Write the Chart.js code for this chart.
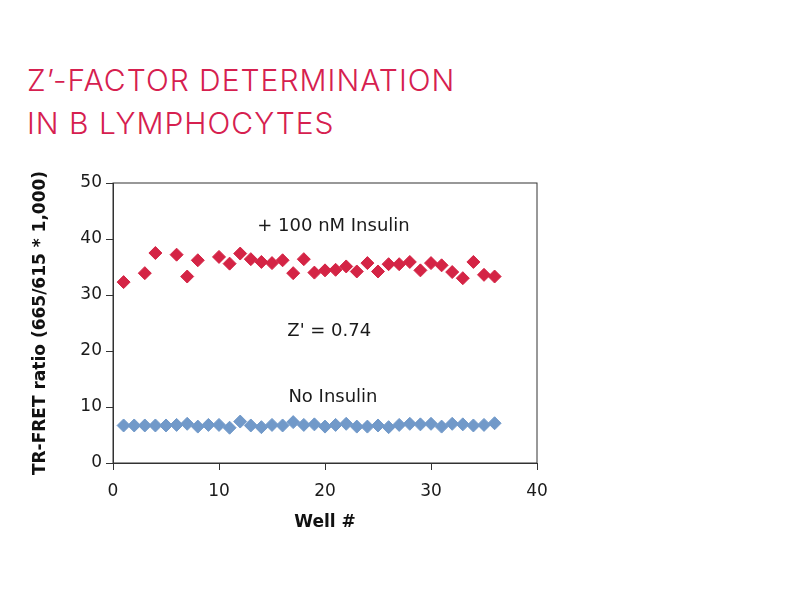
<!DOCTYPE html>
<html>
<head>
<meta charset="utf-8">
<script src="https://cdn.jsdelivr.net/npm/chart.js@4/dist/chart.umd.min.js"></script>
<style>
  body { margin: 0; background: #fff; }
  #wrap { position: relative; width: 800px; height: 600px; }
  #title {
    position: absolute; left: 27px; top: 59px;
    font-family: Inter, "DejaVu Sans", sans-serif; font-weight: 300;
    font-size: 30px; line-height: 43px; color: #d6204f;
    letter-spacing: 1px; white-space: nowrap;
  }
  canvas { position: absolute; left: 0; top: 0; }
</style>
</head>
<body>
<div id="wrap">
  <div id="title">Z’-FACTOR DETERMINATION<br>IN B LYMPHOCYTES</div>
  <canvas id="zChart" width="800" height="600"></canvas>
</div>
<script>
// well numbers and TR-FRET ratios
const insulinWells = [1, 3, 4, 6, 7, 8, 10, 11, 12, 13, 14, 15, 16, 17, 18, 19, 20, 21, 22, 23, 24, 25, 26, 27, 28, 29, 30, 31, 32, 33, 34, 35, 36];
const insulinValues = [32.3, 33.9, 37.5, 37.2, 33.3, 36.2, 36.8, 35.6, 37.4, 36.4, 35.9, 35.7, 36.2, 33.9, 36.4, 34.0, 34.4, 34.5, 35.1, 34.2, 35.7, 34.2, 35.5, 35.5, 35.9, 34.4, 35.7, 35.3, 34.1, 33.0, 35.9, 33.6, 33.3];

const noInsulinWells = [1, 2, 3, 4, 5, 6, 7, 8, 9, 10, 11, 12, 13, 14, 15, 16, 17, 18, 19, 20, 21, 22, 23, 24, 25, 26, 27, 28, 29, 30, 31, 32, 33, 34, 35, 36];
const noInsulinValues = [6.7, 6.7, 6.7, 6.7, 6.7, 6.8, 7.0, 6.5, 6.8, 6.8, 6.3, 7.4, 6.7, 6.4, 6.8, 6.7, 7.3, 6.8, 6.9, 6.5, 6.8, 7.0, 6.5, 6.5, 6.7, 6.4, 6.8, 7.0, 6.9, 7.0, 6.5, 7.0, 6.9, 6.7, 6.8, 7.1];

const xTicks = [0, 10, 20, 30, 40];
const yTicks = [0, 10, 20, 30, 40, 50];

const noteTexts = ['+ 100 nM Insulin', "Z' = 0.74", 'No Insulin'];

const fontFamily = '"DejaVu Sans", sans-serif';

// labels placed in data units
const notes = [
  { text: noteTexts[0], x: 20.8, y: 42.2 },
  { text: noteTexts[1], x: 20.4, y: 23.6 },
  { text: noteTexts[2], x: 20.75, y: 11.8 }
];

const notesPlugin = {
  id: 'notes',
  afterDatasetsDraw(chart) {
    const { ctx, scales } = chart;
    ctx.save();
    ctx.font = '18px ' + fontFamily;
    ctx.fillStyle = '#1a1a1a';
    ctx.textAlign = 'center';
    ctx.textBaseline = 'middle';
    notes.forEach(n => {
      ctx.fillText(n.text, scales.x.getPixelForValue(n.x), scales.y.getPixelForValue(n.y));
    });
    ctx.restore();
  }
};

// frame round the plot area
const framePlugin = {
  id: 'frame',
  afterDraw(chart) {
    const { ctx, chartArea: a } = chart;
    ctx.save();
    ctx.strokeStyle = '#333';
    ctx.lineWidth = 1;
    ctx.strokeRect(a.left, a.top, a.right - a.left, a.bottom - a.top);
    ctx.restore();
  }
};

const ctx = document.getElementById('zChart').getContext('2d');
new Chart(ctx, {
  type: 'scatter',
  data: {
    datasets: [
      {
        label: '+ 100 nM Insulin',
        data: insulinWells.map((w, i) => ({ x: w, y: insulinValues[i] })),
        pointStyle: 'rectRot',
        pointRadius: 6.5,
        backgroundColor: '#d42445',
        borderColor: '#d42445',
        borderWidth: 1
      },
      {
        label: 'No Insulin',
        data: noInsulinWells.map((w, i) => ({ x: w, y: noInsulinValues[i] })),
        pointStyle: 'rectRot',
        pointRadius: 6.5,
        backgroundColor: '#7199c9',
        borderColor: '#7199c9',
        borderWidth: 1
      }
    ]
  },
  options: {
    responsive: false,
    animation: false,
    layout: { padding: { top: 183, right: 263, bottom: 67, left: 0 } },
    plugins: {
      legend: { display: false },
      tooltip: { enabled: false }
    },
    scales: {
      x: {
        type: 'linear',
        min: 0,
        max: 40,
        afterBuildTicks: s => { s.ticks = xTicks.map(v => ({ value: v })); },
        afterFit: s => { s.height = 70; },
        grid: { drawOnChartArea: false, tickLength: 7, color: '#333' },
        border: { color: '#333' },
        ticks: { color: '#1a1a1a', padding: 11, font: { family: fontFamily, size: 17 } },
        title: {
          display: true, text: 'Well #', color: '#111',
          font: { family: fontFamily, size: 17, weight: 'bold' },
          padding: { top: 8, bottom: 0 }
        }
      },
      y: {
        min: 0,
        max: 50,
        afterBuildTicks: s => { s.ticks = yTicks.map(v => ({ value: v })); },
        afterFit: s => { s.width = 113; },
        grid: { drawOnChartArea: false, tickLength: 7, color: '#333' },
        border: { color: '#333' },
        ticks: { color: '#1a1a1a', padding: 4, font: { family: fontFamily, size: 17 } },
        title: {
          display: true, text: 'TR-FRET ratio (665/615 * 1,000)', color: '#111',
          font: { family: fontFamily, size: 17, weight: 'bold' },
          padding: { top: 30 }
        }
      }
    }
  },
  plugins: [notesPlugin, framePlugin]
});
</script>
</body>
</html>
